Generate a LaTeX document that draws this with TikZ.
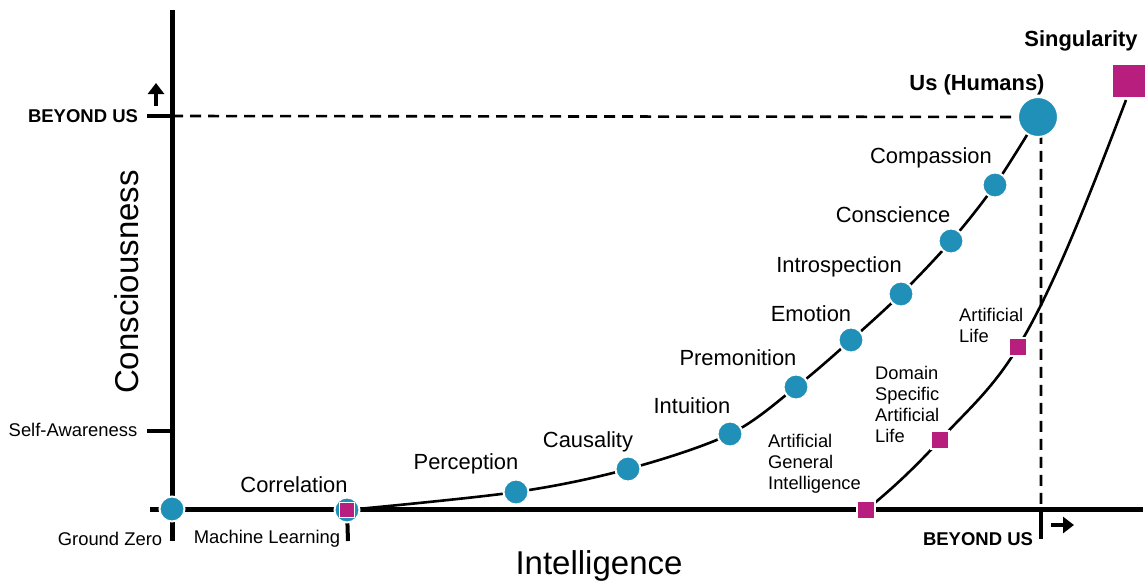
\documentclass[tikz,border=0pt]{standalone}
\usepackage{fontspec}
\setmainfont{Liberation Sans}
\usetikzlibrary{backgrounds,arrows.meta}
\definecolor{dotblue}{HTML}{2090B8}
\definecolor{sqpink}{HTML}{B81E7E}
\tikzset{
  dot/.style={circle,fill=dotblue,draw=white,line width=2pt,minimum size=25pt,inner sep=0pt},
  bigdot/.style={dot,minimum size=40pt},
  sq/.style={rectangle,fill=sqpink,draw=white,line width=1.2pt,minimum size=18pt,inner sep=0pt},
  lbl/.style={font=\fontsize{21.9}{26}\selectfont,inner sep=0pt},
  sml/.style={font=\fontsize{18.4}{21}\selectfont,inner sep=0pt},
  bsml/.style={font=\fontsize{18.5}{21}\selectfont\bfseries,inner sep=0pt},
  blbl/.style={font=\fontsize{21.9}{26}\selectfont\bfseries,inner sep=0pt},
  axtitle/.style={font=\fontsize{33}{38}\selectfont,inner sep=0pt},
  multi/.style={align=left,font=\fontsize{18.3}{21}\selectfont,inner sep=0pt},
  axisline/.style={line width=5pt},
  curveline/.style={line width=2.6pt},
  dashline/.style={line width=2.6pt,dash pattern=on 11pt off 7pt},
  arr/.style={line width=4pt,-{Triangle[length=11pt,width=16pt]}}
}
\begin{document}
\begin{tikzpicture}[x=1pt,y=-1pt]
\useasboundingbox (0,0) rectangle (1145,586);
% axis end coordinates
\coordinate (ytop) at (172,10);
\coordinate (ybot) at (172,541);
\coordinate (xleft) at (150,509);
\coordinate (xright) at (1143,509);
\coordinate (t1a) at (147,116);
\coordinate (t1b) at (172,116);
\coordinate (t2a) at (147,431);
\coordinate (t2b) at (172,431);
\coordinate (mlb) at (348,541);
\coordinate (dtop) at (1041,118);
\coordinate (dax) at (1041,509);
\coordinate (dbot) at (1041,539);
\coordinate (ua) at (156,106);
\coordinate (ub) at (156,83);
\coordinate (ra) at (1051,525);
\coordinate (rb) at (1074,525);
\coordinate (sgb) at (1126,100);
% nodes
\node[dot] (gz) at (172,509) {};
\node[dot] (cor) at (347,510) {};
\node[sq,minimum size=15pt] (ml) at (347,510) {};
\node[dot] (per) at (516,492) {};
\node[dot] (cau) at (628,469) {};
\node[dot] (int) at (730,434) {};
\node[dot] (pre) at (796,387) {};
\node[dot] (emo) at (851,340) {};
\node[dot] (isp) at (901,294) {};
\node[dot] (con) at (951,241) {};
\node[dot] (com) at (995,185) {};
\node[bigdot] (hum) at (1038,117) {};
\node[sq] (agi) at (866,510) {};
\node[sq] (dsal) at (940,440) {};
\node[sq] (al) at (1018,347) {};
\node[sq,minimum size=33pt] (sing) at (1129,81) {};
% lines
\begin{scope}[on background layer]
\draw[axisline] (ytop) -- (ybot);
\draw[axisline] (xleft) -- (xright);
\draw[axisline,line width=4pt] (t1a) -- (t1b);
\draw[axisline,line width=4pt] (t2a) -- (t2b);
\draw[axisline,line width=4pt] (ml.center) -- (mlb);
\draw[dashline] (t1b) -- (hum.center);
\draw[dashline] (hum.center) -- (dtop) -- (dax);
\draw[axisline,line width=4pt] (dax) -- (dbot);
\draw[arr] (ua) -- (ub);
\draw[arr] (ra) -- (rb);
\draw[curveline] plot[smooth,tension=0.55] coordinates {(cor.center) (per.center) (cau.center) (int.center) (pre.center) (emo.center) (isp.center) (con.center) (com.center) (hum.center)};
\draw[curveline] (agi.center) .. controls +(25,-20) and +(-25,27.5) .. (dsal.center)
  .. controls +(26,-28.6) and +(-26,43) .. (al.center)
  .. controls +(36,-59) and +(-36,94) .. (sgb);
\end{scope}
% labels
\node[blbl] at (1081,41) {Singularity};
\node[blbl] at (977,85) {Us (Humans)};
\node[lbl] at (931,158) {Compassion};
\node[lbl] at (893,215) {Conscience};
\node[lbl] at (839,267) {Introspection};
\node[lbl] at (811,314) {Emotion};
\node[lbl] at (738,358) {Premonition};
\node[lbl] at (692,406) {Intuition};
\node[lbl] at (588,442) {Causality};
\node[lbl] at (466,464) {Perception};
\node[lbl] at (294,485) {Correlation};
\node[sml] at (110,539) {Ground Zero};
\node[sml] at (267,539) {Machine Learning};
\node[bsml] at (83,116) {BEYOND US};
\node[sml] at (73,430) {Self-Awareness};
\node[bsml] at (978,539) {BEYOND US};
\node[axtitle] at (599,566) {Intelligence};
\node[axtitle,rotate=90] at (127,282) {Consciousness};
\node[multi,anchor=north west] at (768,434) {Artificial\\General\\Intelligence};
\node[multi,anchor=north west] at (875,366) {Domain\\Specific\\Artificial\\Life};
\node[multi,anchor=north west] at (959,308) {Artificial\\Life};
\end{tikzpicture}
\end{document}
